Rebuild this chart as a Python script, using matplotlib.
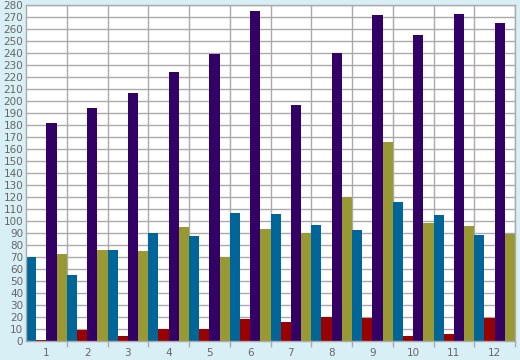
import numpy as np
import matplotlib.pyplot as plt
from matplotlib.ticker import MultipleLocator, FixedLocator

months = ['1', '2', '3', '4', '5', '6', '7', '8', '9', '10', '11', '12']
blue = [70, 55, 76, 90, 87, 107, 106, 97, 92, 116, 105, 88]
red = [1, 9, 4, 10, 10, 18, 16, 20, 19, 4, 6, 19]
purple = [182, 194, 207, 224, 239, 275, 197, 240, 272, 255, 273, 265]
olive = [72, 76, 75, 95, 70, 93, 90, 120, 166, 98, 96, 89]

series = [blue, red, purple, olive]
colors = ['#006699', '#990000', '#330066', '#999933']

bg = '#d9eff6'
grid = '#aaaaaa'

fig = plt.figure(figsize=(5.2, 3.6), dpi=100, facecolor=bg)
ax = fig.add_axes([26/520, 19.3/360, 489/520, 335.4/360])
ax.set_facecolor('white')

x = np.arange(1, len(months) + 1)
w = 0.25
for k, (vals, c) in enumerate(zip(series, colors)):
    ax.bar(x - 0.5 + w * (k + 0.5), vals, width=w, color=c, zorder=2, linewidth=0)

ax.set_xlim(0.5, 12.5)
ax.set_ylim(0, 280)
ax.yaxis.set_major_locator(MultipleLocator(10))
ax.set_xticks(x)
ax.set_xticklabels(months)
ax.xaxis.set_minor_locator(FixedLocator(np.arange(1.5, 12.6, 1)))

ax.grid(True, axis='y', color=grid, lw=1, zorder=0)
ax.grid(True, axis='x', which='minor', color=grid, lw=1, zorder=0)
ax.set_axisbelow(True)

ax.tick_params(axis='x', which='major', length=0, pad=5, labelsize=7.5, labelcolor='#666666')
ax.tick_params(axis='x', which='minor', length=4, color=grid, width=1)
ax.tick_params(axis='y', length=0, pad=2, labelsize=7.5, labelcolor='#666666')

for s in ax.spines.values():
    s.set_color(grid)
    s.set_linewidth(1)

fig.savefig('out.png', dpi=100, facecolor=bg)
